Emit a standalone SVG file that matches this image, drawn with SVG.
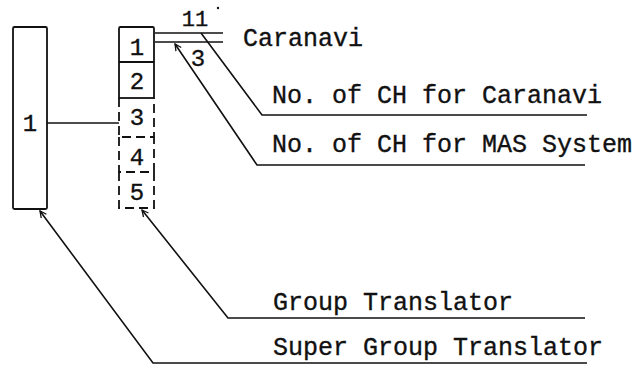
<svg xmlns="http://www.w3.org/2000/svg" width="638" height="367" viewBox="0 0 638 367">
  <style>
    .bg { fill: #ffffff; }
    .box { fill: none; stroke: #111; stroke-width: 1.8; }
    .dash { fill: none; stroke: #111; stroke-width: 1.8; stroke-dasharray: 9 5; }
    .ln { fill: none; stroke: #111; stroke-width: 1.6; }
    .t { font-family: "Liberation Mono", "Courier New", monospace; font-size: 25px; fill: #111; stroke: #111; stroke-width: 0.35; }
    .d { font-family: "Liberation Mono", "Courier New", monospace; font-size: 24px; fill: #111; stroke: #111; stroke-width: 0.35; text-anchor: middle; }
    .s { font-family: "Liberation Mono", "Courier New", monospace; font-size: 22px; fill: #111; stroke: #111; stroke-width: 0.35; text-anchor: middle; }
  </style>
  <defs>
    <marker id="arrow" viewBox="0 0 10 10" refX="9" refY="5" markerWidth="8" markerHeight="8" orient="auto-start-reverse" markerUnits="userSpaceOnUse">
      <path d="M1,1 L9,5 L1,9" fill="none" stroke="#111" stroke-width="1.6"/>
    </marker>
  </defs>
  <rect class="bg" x="0" y="0" width="638" height="367"/>

  <!-- super group translator -->
  <g id="super-group">
    <rect class="box" x="13" y="27" width="34" height="182" rx="1.5"/>
    <text class="d" x="30" y="131">1</text>
  </g>

  <!-- group translator: channels 1..5 -->
  <g id="group-1">
    <rect class="box" x="119" y="27" width="35" height="35" rx="1.5"/>
    <text class="d" x="137" y="55">1</text>
  </g>
  <g id="group-2">
    <rect class="box" x="119" y="62" width="35" height="36"/>
    <text class="d" x="137" y="89">2</text>
  </g>
  <g id="group-3">
    <path class="dash" d="M119,98 V137 H154 V98"/>
    <text class="d" x="137" y="125">3</text>
  </g>
  <g id="group-4">
    <path class="dash" d="M119,137 V172 H154 V137"/>
    <text class="d" x="137" y="165">4</text>
  </g>
  <g id="group-5">
    <path class="dash" d="M119,172 V208 H154 V172"/>
    <text class="d" x="137" y="200">5</text>
  </g>

  <!-- Caranavi channel pair -->
  <g id="caranavi">
    <line class="ln" x1="155" y1="33" x2="223" y2="33"/>
    <line class="ln" x1="155" y1="42" x2="223" y2="42"/>
    <text class="s" x="195" y="26">11</text>
    <circle cx="218" cy="8" r="1.2" fill="#111"/>
    <text class="d" x="198" y="66">3</text>
    <text class="t" x="243" y="46">Caranavi</text>
  </g>

  <!-- labels -->
  <g id="label-ch-caranavi">
    <text class="t" x="272" y="103">No. of CH for Caranavi</text>
  </g>
  <g id="label-ch-mas">
    <text class="t" x="272" y="152">No. of CH for MAS System</text>
  </g>
  <g id="label-group">
    <text class="t" x="273" y="310">Group Translator</text>
  </g>
  <g id="label-super">
    <text class="t" x="273" y="355">Super Group Translator</text>
  </g>

  <!-- connectors -->
  <g id="connectors">
    <line class="ln" x1="47" y1="123" x2="119" y2="123"/>
    <path class="ln" d="M587,115 H262 L201,33"/>
    <path class="ln" d="M585,165 H257 L175,44" marker-end="url(#arrow)"/>
    <path class="ln" d="M585,318 H228 L142,210" marker-end="url(#arrow)"/>
    <path class="ln" d="M587,363 H153 L40,211" marker-end="url(#arrow)"/>
  </g>
</svg>
